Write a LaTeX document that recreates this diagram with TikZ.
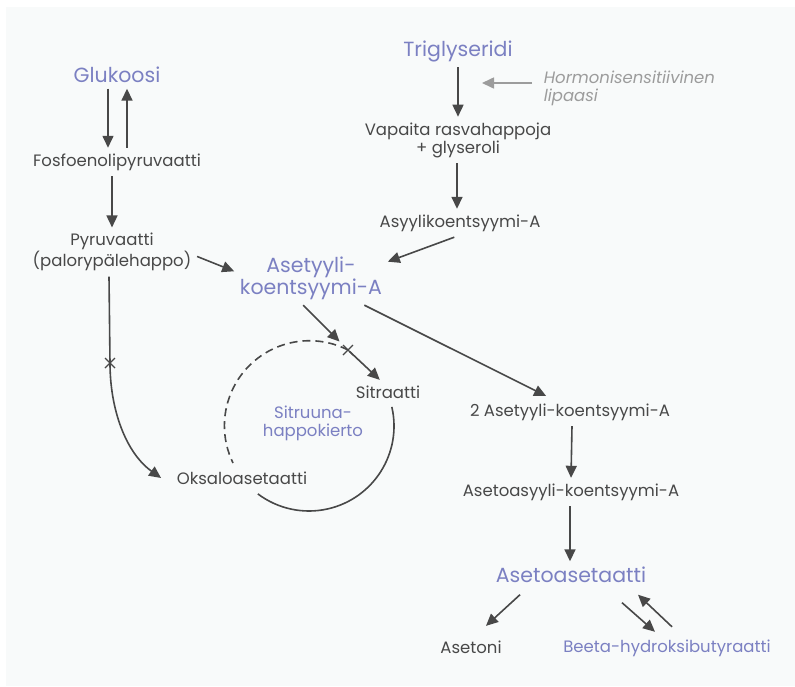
\documentclass[tikz,border=0pt]{standalone}
\usepackage{fontspec}
\setmainfont{Poppins}
\usetikzlibrary{arrows.meta}
\definecolor{ink}{HTML}{484848}
\definecolor{lila}{HTML}{7B80C2}
\definecolor{harmaa}{HTML}{9C9C9C}
\definecolor{tausta}{HTML}{F8FAFA}
\begin{document}
\begin{tikzpicture}[x=1pt,y=-1pt,line width=1.6pt,line join=round,
  every node/.style={text=ink,font=\fontsize{16.5}{18}\selectfont,align=center,inner sep=5pt},
  head/.style={text=lila,font=\fontsize{20.5}{20}\selectfont},
  pieni/.style={text=lila,font=\fontsize{16.5}{18}\selectfont},
  nuoli/.style={draw=ink,-{Triangle[length=12pt,width=11pt]}},
  katko/.style={draw=ink,dash pattern=on 8pt off 5pt},
  risti/.style={draw=ink,line width=1.2pt}]
  \fill[tausta] (6,7) rectangle (795,686);
  \useasboundingbox (0,0) rectangle (795,686);
  % vasen sarake
  \node[head] (glukoosi) at (117,75) {Glukoosi};
  \node (fosfo) at (117,162) {Fosfoenolipyruvaatti};
  \node (pyru) at (112,252) {Pyruvaatti\\(palorypälehappo)};
  \node[head] (asetyyli) at (311,278) {Asetyyli-\\koentsyymi-A};
  % oikea yläosa
  \node[head] (trigly) at (458,51) {Triglyseridi};
  \node[text=harmaa,font=\fontsize{16.5}{18}\itshape,align=left,anchor=west] (lipaasi) at (538,88) {Hormonisensitiivinen\\lipaasi};
  \node (vapaita) at (458,140) {Vapaita rasvahappoja\\+ glyseroli};
  \node (asyyli) at (460,223) {Asyylikoentsyymi-A};
  % sitruunahappokierto
  \node (sitraatti) at (388,392) {Sitraatti};
  \node[pieni] (sykli) at (313,423) {Sitruuna-\\happokierto};
  \node (oksalo) at (242,478) {Oksaloasetaatti};
  \coordinate (kierto) at (309,426);
  \coordinate (risti1) at (110,363);
  \coordinate (risti2) at (348,350);
  \coordinate (entsyymi) at (482,83);
  % ketoaineet
  \node (kaksi) at (570,412) {2 Asetyyli-koentsyymi-A};
  \node (asetoasyyli) at (571,492) {Asetoasyyli-koentsyymi-A};
  \node[head] (asetoas) at (571,575) {Asetoasetaatti};
  \node (asetoni) at (471,647) {Asetoni};
  \node[pieni] (beeta) at (667,648) {Beeta-hydroksibutyraatti};

  \draw[nuoli] ([xshift=-9pt]glukoosi.south) -- ([xshift=-9pt]fosfo.north);
  \draw[nuoli] ([xshift=10pt]fosfo.north) -- ([xshift=10pt]glukoosi.south);
  \draw[nuoli] ([xshift=-5pt]fosfo.south) -- ([xshift=0pt]pyru.north);
  \draw[nuoli] (pyru.-3) -- (asetyyli.175);
  \draw[nuoli] (trigly.south) -- (vapaita.north);
  \draw[nuoli,draw=harmaa,shorten <=6pt] (lipaasi.west |- entsyymi) -- (entsyymi);
  \draw[nuoli] ([xshift=-1pt]vapaita.south) -- ([xshift=-3pt]asyyli.north);
  \draw[nuoli] (asyyli.-112) -- (asetyyli.12);
  \draw[nuoli,shorten >=12pt] (asetyyli.-106) -- (risti2);
  \draw[nuoli,shorten <=2pt] (risti2) -- (sitraatti.124);
  \draw[nuoli,shorten >=4pt] (asetyyli.-27) -- (kaksi.145);
  \draw[nuoli] ([xshift=2pt]kaksi.south) -- (asetoasyyli.north);
  \draw[nuoli] ([xshift=-1pt]asetoasyyli.south) -- ([xshift=-1pt]asetoas.north);
  \draw[nuoli] ([shift={(-51pt,-6pt)}]asetoas.south) -- ([shift={(15pt,9pt)}]asetoni.north);
  \draw[nuoli] ([shift={(51pt,-14pt)}]asetoas.south) -- ([shift={(-12pt,2pt)}]beeta.north);
  \draw[nuoli] ([shift={(5pt,7pt)}]beeta.north) -- ([shift={(67pt,-6pt)}]asetoas.south);
  % pyruvaatti -> oksaloasetaatti
  \draw[nuoli] ([xshift=-3pt]pyru.south) -- (risti1)
    .. controls +(0,47) and +(-35,-25) .. ([xshift=-10pt]oksalo.west);
  \draw[risti] (risti1) ++(-5,-5) -- ++(10,10) ++(0,-10) -- ++(-10,10);
  \draw[risti] (risti2) ++(-5,-5) -- ++(10,10) ++(0,-10) -- ++(-10,10);
  % kierto
  \draw[katko] (risti2) arc[start angle=63,end angle=206,radius=85pt];
  \draw[draw=ink] ([shift={(13:85pt)}]kierto) arc[start angle=13,end angle=-127,radius=85pt];
\end{tikzpicture}
\end{document}
